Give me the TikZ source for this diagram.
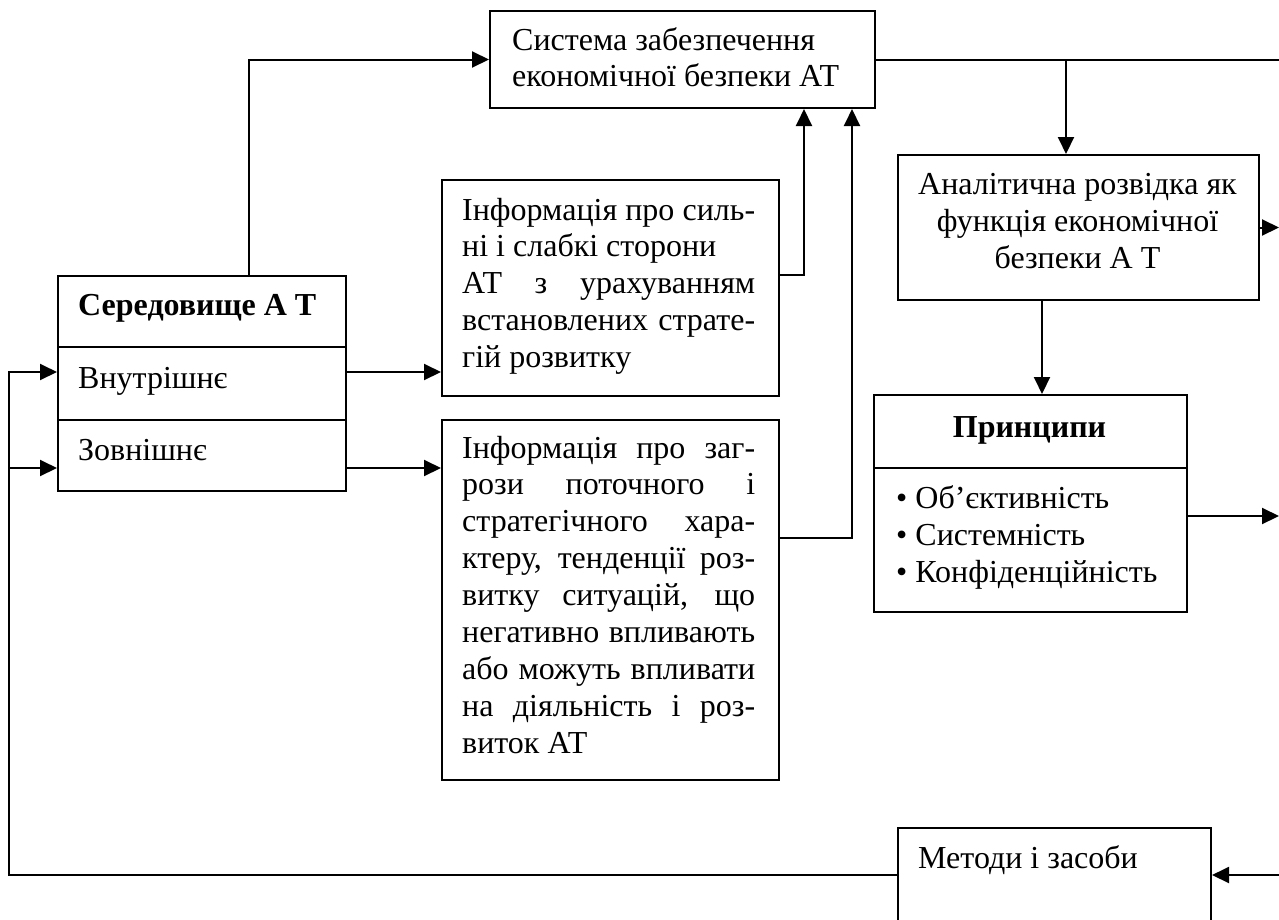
\documentclass[tikz,border=0pt]{standalone}
\usepackage{fontspec}
\setmainfont{Liberation Serif}
\usetikzlibrary{arrows.meta}
\newcommand\bodyfont{\fontsize{32}{36.9}\selectfont}
\newcommand\jl[1]{\makebox[293pt][s]{#1}}
\begin{document}
\begin{tikzpicture}[x=1pt,y=-1pt,
  box/.style={draw, line width=2pt, inner sep=0pt, anchor=north west},
  txt/.style={inner sep=0pt, font=\bodyfont, anchor=base west},
  ctxt/.style={inner sep=0pt, font=\bodyfont, anchor=base},
  conn/.style={line width=2pt},
  arr/.style={conn, -{Triangle[length=17pt,width=16pt]}}]
\useasboundingbox (0,0) rectangle (1279,919);
\clip (0,0) rectangle (1279,919);
% boxes
\node[box, minimum width=385pt, minimum height=97pt] (sys) at (489,10) {};
\node[box, minimum width=288pt, minimum height=71pt] (seredT) at (57,275) {};
\node[box, minimum width=288pt, minimum height=73pt] (inner) at (57,346) {};
\node[box, minimum width=288pt, minimum height=71pt] (outer) at (57,419) {};
\node[box, minimum width=337pt, minimum height=216pt] (info1) at (441,179) {};
\node[box, minimum width=337pt, minimum height=360pt] (info2) at (441,419) {};
\node[box, minimum width=361pt, minimum height=145pt] (anal) at (897,154) {};
\node[box, minimum width=313pt, minimum height=73pt] (princT) at (873,394) {};
\node[box, minimum width=313pt, minimum height=144pt] (princB) at (873,467) {};
\node[box, minimum width=313pt, minimum height=110pt] (metody) at (897,827) {};
% texts
\node[txt] (sysA) at (512,50) {Система забезпечення};
\node[txt] (sysB) at (512,86) {економічної безпеки АТ};
\node[txt, font=\bodyfont\bfseries] (seredL) at (78,315) {Середовище А Т};
\node[txt] (innerL) at (78,388) {Внутрішнє};
\node[txt] (outerL) at (78,460) {Зовнішнє};
\node[txt] (i1a) at (462,220) {\jl{Інформація про силь-}};
\node[txt] (i1b) at (462,256.9) {ні і слабкі сторони};
\node[txt] (i1c) at (462,293.8) {\jl{АТ з урахуванням}};
\node[txt] (i1d) at (462,330.7) {\jl{встановлених страте-}};
\node[txt] (i1e) at (462,367.6) {гій розвитку};
\node[txt] (i2a) at (462,458) {\jl{Інформація про заг-}};
\node[txt] (i2b) at (462,494.9) {\jl{рози поточного і}};
\node[txt] (i2c) at (462,531.8) {\jl{стратегічного хара-}};
\node[txt] (i2d) at (462,568.7) {\jl{ктеру, тенденції роз-}};
\node[txt] (i2e) at (462,605.6) {\jl{витку ситуацій, що}};
\node[txt] (i2f) at (462,642.5) {\jl{негативно впливають}};
\node[txt] (i2g) at (462,679.4) {\jl{або можуть впливати}};
\node[txt] (i2h) at (462,716.3) {\jl{на діяльність і роз-}};
\node[txt] (i2i) at (462,753.2) {виток АТ};
\node[ctxt] (anA) at (1077.5,194) {Аналітична розвідка як};
\node[ctxt] (anB) at (1077.5,231) {функція економічної};
\node[ctxt] (anC) at (1077.5,268) {безпеки А Т};
\node[ctxt, font=\bodyfont\bfseries] (prT) at (1029.5,437) {Принципи};
\node[txt] (prA) at (896,508) {\textbullet\ Об’єктивність};
\node[txt] (prB) at (896,545) {\textbullet\ Системність};
\node[txt] (prC) at (896,582) {\textbullet\ Конфіденційність};
\node[txt] (metL) at (918,868) {Методи і засоби};
% helper coordinates
\coordinate (edgeR) at (1279,0);
\coordinate (edgeL) at (9,0);
\coordinate (sTop) at ([xshift=192pt]seredT.north west);
\coordinate (b1) at ([xshift=169pt]anal.north west);
\coordinate (b2) at ([xshift=145pt]anal.south west);
\coordinate (s1) at ([xshift=-72pt]sys.south east);
\coordinate (s2) at ([xshift=-24pt]sys.south east);
\coordinate (i1o) at ([yshift=13pt]info1.east);
\coordinate (i2o) at ([yshift=62pt]info2.east);
\coordinate (inR) at ([yshift=11.5pt]inner.east);
\coordinate (outR) at ([yshift=-12.5pt]outer.east);
\coordinate (inL) at ([yshift=11.5pt]inner.west);
\coordinate (outL) at ([yshift=-12.5pt]outer.west);
\coordinate (prO) at ([yshift=24pt]princB.east);
\coordinate (mL) at ([yshift=-48pt]metody.north west);
\coordinate (mR) at ([yshift=-48pt]metody.north east);
% connectors
\draw[arr] (sTop) |- (sys.west);
\draw[conn] (sys.east) -- (sys.east -| edgeR);
\draw[arr] (b1 |- sys.east) -- (b1);
\draw[arr] (b2) -- (b2 |- princT.north);
\draw[arr] (anal.east) -- (anal.east -| edgeR);
\draw[arr] (prO) -- (prO -| edgeR);
\draw[arr] (i1o) -| (s1);
\draw[arr] (i2o) -| (s2);
\draw[arr] (inR) -- (inR -| info1.west);
\draw[arr] (outR) -- (outR -| info2.west);
\draw[arr] (mR -| edgeR) -- (mR);
\draw[arr] (mL) -| (edgeL |- inL) -- (inL);
\draw[arr] (edgeL |- outL) -- (outL);
\end{tikzpicture}
\end{document}
